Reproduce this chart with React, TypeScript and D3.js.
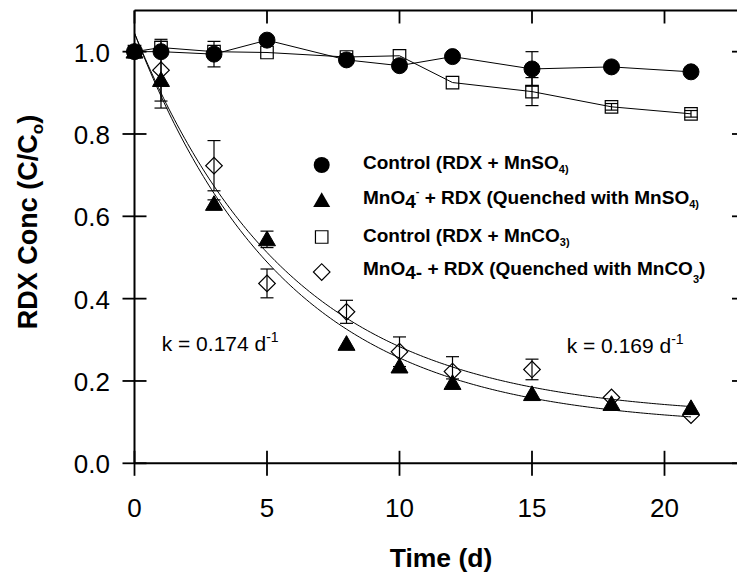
import React from 'react';
import * as d3 from 'd3';

const days = [0, 1, 3, 5, 8, 10, 12, 15, 18, 21];
const ctrlSO4 = [1.0, 1.0, 0.994, 1.028, 0.98, 0.966, 0.988, 0.958, 0.963, 0.951];
const ctrlSO4Err = [0, 0, 0.031, 0, 0, 0, 0.01, 0.042, 0, 0];
const ctrlCO3 = [1.0, 1.01, 1.0, 0.998, 0.987, 0.99, 0.925, 0.903, 0.866, 0.849];
const ctrlCO3Err = [0, 0.015, 0, 0, 0.008, 0, 0, 0.034, 0.008, 0.008];
const quenchSO4 = [1.0, 0.931, 0.63, 0.544, 0.29, 0.235, 0.195, 0.168, 0.144, 0.134];
const quenchSO4Err = [0, 0.068, 0.01, 0.02, 0, 0, 0.01, 0, 0, 0];
const quenchCO3 = [1.0, 0.955, 0.723, 0.437, 0.368, 0.271, 0.223, 0.228, 0.16, 0.117];
const quenchCO3Err = [0, 0.075, 0.061, 0.035, 0.028, 0.036, 0.036, 0.025, 0, 0];

const xTicks = [0, 5, 10, 15, 20];
const yTicks = [0, 0.2, 0.4, 0.6, 0.8, 1.0];

// first-order fits: C = cInf + (c0 - cInf) * exp(-k t)
const fitK = [0.174, 0.169];
const fitC0 = [1.045, 1.045];
const fitCInf = [0.088, 0.111];

const FONT = 'Liberation Sans, Arial, Helvetica, sans-serif';

export default function App() {
  const W = 737;
  const H = 579;
  const x = d3.scaleLinear().domain([0, 23]).range([134.5, 744]);
  const y = d3.scaleLinear().domain([0, 1.1]).range([463.3, 10.5]);
  const x0 = x(0), x1 = x(23), y0 = y(0), y1 = y(1.1);

  const line = d3.line<[number, number]>().x(d => x(d[0])).y(d => y(d[1]));
  const tGrid = d3.range(0, 21.001, 0.1);
  const fitPaths = fitK.map((k, i) =>
    line(tGrid.map(t => [t, fitCInf[i] + (fitC0[i] - fitCInf[i]) * Math.exp(-k * t)] as [number, number])) || ''
  );

  const circleP = d3.symbol(d3.symbolCircle, 201)() || '';
  const triP = d3.symbol(d3.symbolTriangle, 125)() || '';
  const squareP = d3.symbol(d3.symbolSquare, 156)() || '';
  const diamondP = d3.symbol(d3.symbolSquare, 137)() || '';

  const errBars = (vals: number[], errs: number[], key: string) =>
    days.map((t, i) => {
      if (!errs[i]) return null;
      const cx = x(t);
      const ya = y(vals[i] + errs[i]);
      const yb = y(vals[i] - errs[i]);
      return (
        <g key={key + i} stroke="#000" strokeWidth={1.2}>
          <line x1={cx} x2={cx} y1={ya} y2={yb} />
          <line x1={cx - 6.5} x2={cx + 6.5} y1={ya} y2={ya} />
          <line x1={cx - 6.5} x2={cx + 6.5} y1={yb} y2={yb} />
        </g>
      );
    });

  const markers = (vals: number[], p: string, fill: string, rot: number, key: string, dy = 0) =>
    days.map((t, i) => (
      <path
        key={key + i}
        d={p}
        transform={`translate(${x(t)},${y(vals[i]) + dy}) rotate(${rot})`}
        fill={fill}
        stroke="#000"
        strokeWidth={fill === 'none' ? 1.2 : 1}
      />
    ));

  const legendX = 321.7;
  const textX = 363;
  const legendFont = 19;

  return (
    <svg
      width={W}
      height={H}
      style={{ position: 'fixed', left: 0, top: 0, background: '#fff' }}
      fontFamily={FONT}
    >
      <rect x={0} y={0} width={W} height={H} fill="#fff" />
      {/* frame */}
      <g stroke="#000" strokeWidth={2} fill="none">
        <line x1={x0} x2={x0} y1={y1} y2={y0} />
        <line x1={x0} x2={x1} y1={y0} y2={y0} />
        <line x1={x0} x2={x1} y1={y1} y2={y1} />
        <line x1={x1} x2={x1} y1={y1} y2={y0} />
      </g>
      {/* ticks */}
      <g stroke="#000" strokeWidth={1.8}>
        {xTicks.map(t => (
          <g key={'xt' + t}>
            <line x1={x(t)} x2={x(t)} y1={y0 - 12.5} y2={y0 + 12.5} />
            <line x1={x(t)} x2={x(t)} y1={y1} y2={y1 + 13} />
          </g>
        ))}
        {yTicks.map(v => (
          <g key={'yt' + v}>
            <line x1={x0 - 12} x2={x0 + 12} y1={y(v)} y2={y(v)} />
            <line x1={x1 - 12} x2={x1 + 12} y1={y(v)} y2={y(v)} />
          </g>
        ))}
      </g>
      {/* tick labels */}
      <g fontSize={26} fill="#000">
        {xTicks.map(t => (
          <text key={'xl' + t} x={x(t)} y={517} textAnchor="middle">{t}</text>
        ))}
        {yTicks.map(v => (
          <text key={'yl' + v} x={110} y={y(v) + 10} textAnchor="end">{v.toFixed(1)}</text>
        ))}
      </g>
      {/* axis titles */}
      <text x={441} y={567} textAnchor="middle" fontSize={26.5} fontWeight="bold">Time (d)</text>
      <text transform="translate(37,222) rotate(-90)" textAnchor="middle" fontSize={27} fontWeight="bold">
        RDX Conc (C/C<tspan fontSize={17} dy={6}>o</tspan><tspan dy={-6}>)</tspan>
      </text>

      {/* fitted curves */}
      {fitPaths.map((p, i) => (
        <path key={'fit' + i} d={p} fill="none" stroke="#000" strokeWidth={1} />
      ))}
      {/* control lines */}
      <path d={line(days.map((t, i) => [t, ctrlSO4[i]] as [number, number])) || ''} fill="none" stroke="#000" strokeWidth={1} />
      <path d={line(days.map((t, i) => [t, ctrlCO3[i]] as [number, number])) || ''} fill="none" stroke="#000" strokeWidth={1} />

      {/* error bars */}
      {errBars(ctrlCO3, ctrlCO3Err, 'e2')}
      {errBars(quenchCO3, quenchCO3Err, 'e4')}
      {errBars(quenchSO4, quenchSO4Err, 'e3')}
      {errBars(ctrlSO4, ctrlSO4Err, 'e1')}

      {/* markers */}
      {markers(ctrlCO3, squareP, 'none', 0, 'm2')}
      {markers(quenchCO3, diamondP, 'none', 45, 'm4')}
      {markers(quenchSO4, triP, '#000', 0, 'm3', 1.5)}
      {markers(ctrlSO4, circleP, '#000', 0, 'm1')}

      {/* legend */}
      <g>
        <path d={circleP} transform={`translate(${legendX},165)`} fill="#000" />
        <path d={triP} transform={`translate(${legendX},202)`} fill="#000" />
        <path d={squareP} transform={`translate(${legendX},237)`} fill="none" stroke="#000" strokeWidth={1.2} />
        <path d={diamondP} transform={`translate(${legendX},272) rotate(45)`} fill="none" stroke="#000" strokeWidth={1.2} />
      </g>
      <g fontSize={legendFont} fontWeight="bold" fill="#000">
        <text x={textX} y={169.3}>
          Control (RDX + MnSO<tspan fontSize={11} dy={4}>4)</tspan>
        </text>
        <text x={textX} y={204}>
          MnO<tspan dy={4}>4</tspan><tspan fontSize={11} dy={-13}>-</tspan>
          <tspan dy={9}> + RDX (Quenched with MnSO</tspan><tspan fontSize={11} dy={4}>4)</tspan>
        </text>
        <text x={textX} y={241.7}>
          Control (RDX + MnCO<tspan fontSize={11} dy={4}>3)</tspan>
        </text>
        <text x={textX} y={275}>
          MnO<tspan dy={4}>4-</tspan><tspan dy={-4}> + RDX (Quenched with MnCO</tspan>
          <tspan fontSize={11} dy={8}>3</tspan><tspan dy={-8}>)</tspan>
        </text>
      </g>

      {/* rate constants */}
      <text x={161.7} y={350.7} fontSize={21}>
        k = 0.174 d<tspan fontSize={14} dy={-9}>-1</tspan>
      </text>
      <text x={566.7} y={353.3} fontSize={21}>
        k = 0.169 d<tspan fontSize={14} dy={-9}>-1</tspan>
      </text>
    </svg>
  );
}
